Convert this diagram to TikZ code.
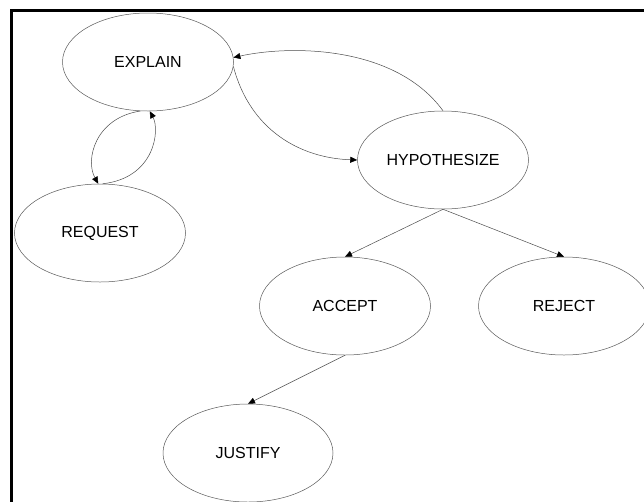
\documentclass[tikz,border=0pt]{standalone}
\usepackage{fontspec}
\setmainfont{Liberation Sans}
\usetikzlibrary{shapes.geometric,arrows.meta}
\begin{document}
\begin{tikzpicture}[x=1pt,y=-1pt,
  state/.style={ellipse,draw=black!65,line width=0.5pt,minimum width=171pt,minimum height=98pt,inner sep=0pt,
    font=\fontsize{16}{19}\selectfont,text=black},
  link/.style={draw=black!70,line width=0.5pt,-{Triangle[length=7pt,width=6pt,color=black]}}]
\useasboundingbox (0,0) rectangle (644,501);
\draw[line width=3pt] (11.5,510) -- (11.5,10.5) -- (650,10.5);
\node[state] (ex) at (148,62) {EXPLAIN};
\node[state] (rq) at (100,233) {REQUEST};
\node[state] (hy) at (443,160) {HYPOTHESIZE};
\node[state] (ac) at (345,306) {ACCEPT};
\node[state] (rj) at (564,306) {REJECT};
\node[state,minimum width=170pt] (ju) at (248,453) {JUSTIFY};
\draw[link] (hy.north) .. controls (395,45) and (290,45) .. (ex.3);
\draw[link] (ex.-3) .. controls (250,130) and (300,158) .. (hy.west);
\draw[link] (ex.-99) .. controls (95,118) and (85,160) .. (rq.92);
\draw[link] (rq.87) .. controls (155,178) and (160,130) .. (ex.-88);
\draw[link] (hy.south) -- (ac.north);
\draw[link] (hy.south) -- (rj.north);
\draw[link] (ac.south) -- (ju.north);
\end{tikzpicture}
\end{document}
